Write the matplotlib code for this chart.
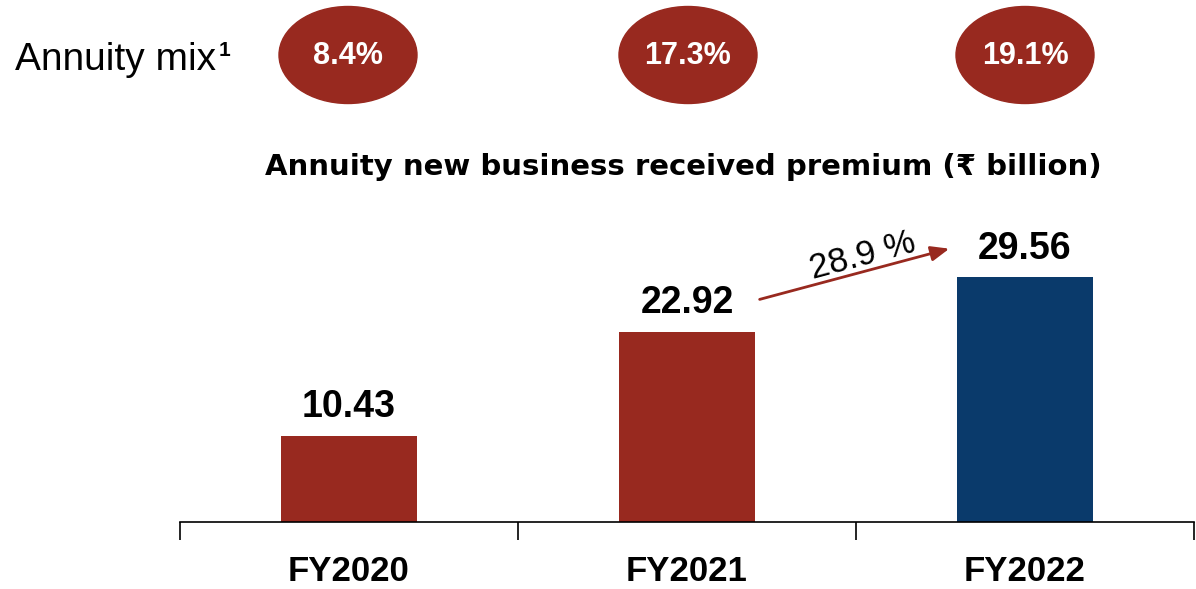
import matplotlib
matplotlib.use("Agg")
import matplotlib.pyplot as plt
from matplotlib.patches import Ellipse

categories = ["FY2020", "FY2021", "FY2022"]
premium = [10.43, 22.92, 29.56]
annuity_mix = ["8.4%", "17.3%", "19.1%"]
growth_label = "28.9 %"
bar_colors = ["#98291F", "#98291F", "#0A3A6B"]

RED = "#98291F"
W, H = 1196, 589
fig = plt.figure(figsize=(W / 100, H / 100), dpi=100)
LIB = ["Liberation Sans", "DejaVu Sans"]

ax = fig.add_axes([180 / W, 1 - 522 / H, (1194 - 180) / W, (522 - 190) / H])
x = list(range(len(categories)))
ax.bar(x, premium, width=0.4, color=bar_colors)
ax.set_xlim(-0.5, 2.5)
ax.set_ylim(0, 40.1)
for s in ["top", "right", "left"]:
    ax.spines[s].set_visible(False)
ax.spines["bottom"].set_linewidth(1.2)
ax.set_yticks([])
ax.set_xticks(x)
ax.set_xticklabels(categories, fontsize=25, fontweight="bold", family=LIB)
ax.tick_params(axis="x", which="major", length=0, pad=24)
ax.set_xticks([-0.5, 0.5, 1.5, 2.5], minor=True)
ax.tick_params(axis="x", which="minor", length=13, width=1.2)

for xi, v in zip(x, premium):
    ax.text(xi, v + 1.3, f"{v:.2f}", ha="center", va="bottom", fontsize=27,
            fontweight="bold", family=LIB)

ax.annotate("", xy=(1.784, 33.1), xytext=(1.207, 26.8),
            arrowprops=dict(arrowstyle="-|>,head_length=1.1,head_width=0.45",
                            color=RED, lw=2))
ax.text(1.52, 32.2, growth_label, ha="center", va="center", rotation=15,
        fontsize=25, family=LIB)

# title
fig.text(683 / W, 1 - 167 / H, "Annuity new business received premium (\u20b9 billion)",
         ha="center", va="center", fontsize=21, fontweight="heavy",
         family=["DejaVu Sans", "Liberation Sans"])

# Annuity mix row
fig.text(15 / W, 1 - 60 / H, "Annuity mix", ha="left", va="center",
         fontsize=28, family=LIB)
fig.text(219 / W, 1 - 50 / H, "1", ha="left", va="center",
         fontsize=15, fontweight="bold", family=LIB)
centers = [348, 688, 1025]
for cx, lab in zip(centers, annuity_mix):
    e = Ellipse((cx / W, 1 - 55 / H), 138 / W, 97 / H, transform=fig.transFigure,
                color=RED)
    fig.add_artist(e)
    fig.text(cx / W, 1 - 56 / H, lab, ha="center", va="center", color="white",
             fontsize=22, fontweight="bold", family=LIB)

fig.savefig("out.png", dpi=100)
